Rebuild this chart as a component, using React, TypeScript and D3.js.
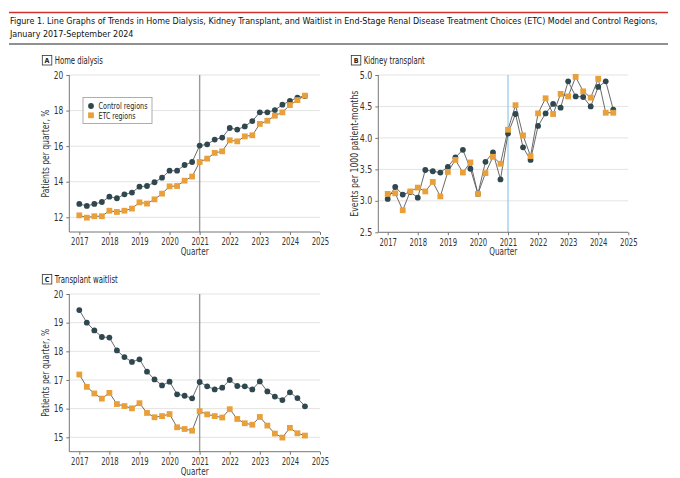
import React, { useEffect, useRef } from "react";
import * as d3 from "d3";

const quarters: number[] = [
  2017, 2017.25, 2017.5, 2017.75, 2018, 2018.25, 2018.5, 2018.75,
  2019, 2019.25, 2019.5, 2019.75, 2020, 2020.25, 2020.5, 2020.75,
  2021, 2021.25, 2021.5, 2021.75, 2022, 2022.25, 2022.5, 2022.75,
  2023, 2023.25, 2023.5, 2023.75, 2024, 2024.25, 2024.5,
];

const xTicks: number[] = [2017, 2018, 2019, 2020, 2021, 2022, 2023, 2024, 2025];

const homeControl: number[] = [
  12.75, 12.64, 12.75, 12.86, 13.16, 13.07, 13.29, 13.39,
  13.72, 13.76, 13.97, 14.23, 14.62, 14.62, 14.94, 15.11,
  16.03, 16.1, 16.37, 16.48, 17.02, 16.93, 17.11, 17.41,
  17.9, 17.9, 18.03, 18.33, 18.54, 18.73, 18.82,
];
const homeETC: number[] = [
  12.11, 11.98, 12.06, 12.06, 12.37, 12.3, 12.37, 12.49,
  12.84, 12.77, 13.01, 13.33, 13.74, 13.76, 14.06, 14.29,
  15.11, 15.3, 15.62, 15.71, 16.33, 16.27, 16.55, 16.61,
  17.25, 17.43, 17.71, 17.9, 18.31, 18.59, 18.84,
];

const txControl: number[] = [
  3.03, 3.22, 3.1, 3.14, 3.05, 3.49, 3.47, 3.45,
  3.54, 3.69, 3.81, 3.51, 3.11, 3.62, 3.77, 3.34,
  4.07, 4.38, 3.85, 3.65, 4.19, 4.39, 4.54, 4.48,
  4.9, 4.66, 4.65, 4.5, 4.81, 4.9, 4.45,
];
const txETC: number[] = [
  3.11, 3.12, 2.85, 3.15, 3.21, 3.15, 3.3, 3.07,
  3.46, 3.65, 3.45, 3.61, 3.11, 3.44, 3.7, 3.59,
  4.13, 4.52, 4.04, 3.71, 4.39, 4.63, 4.38, 4.7,
  4.66, 4.97, 4.74, 4.64, 4.94, 4.4, 4.4,
];

const wlControl: number[] = [
  19.44, 19.0, 18.73, 18.5, 18.48, 18.03, 17.8, 17.63,
  17.72, 17.29, 17.02, 16.81, 16.94, 16.5, 16.45, 16.36,
  16.93, 16.78, 16.67, 16.73, 17.0, 16.79, 16.78, 16.67,
  16.95, 16.6, 16.42, 16.3, 16.57, 16.37, 16.08,
];
const wlETC: number[] = [
  17.19, 16.76, 16.53, 16.35, 16.55, 16.16, 16.09, 16.01,
  16.19, 15.85, 15.7, 15.74, 15.81, 15.35, 15.29, 15.23,
  15.91, 15.8, 15.74, 15.69, 15.98, 15.64, 15.49, 15.44,
  15.71, 15.41, 15.13, 14.99, 15.33, 15.14, 15.06,
];

const homeTicks: number[] = [12, 14, 16, 18, 20];
const txTicks: number[] = [2.5, 3.0, 3.5, 4.0, 4.5, 5.0];
const wlTicks: number[] = [15, 16, 17, 18, 19, 20];

const titleLine1 =
  "Figure 1. Line Graphs of Trends in Home Dialysis, Kidney Transplant, and Waitlist in End-Stage Renal Disease Treatment Choices (ETC) Model and Control Regions,";
const titleLine2 = "January 2017-September 2024";

const FONT = "'Liberation Sans Narrow', 'DejaVu Sans Condensed', 'Arial Narrow', 'Liberation Sans', sans-serif";
const CONTROL_COLOR = "#2f4850";
const ETC_COLOR = "#e9a03b";
const LINE_COLOR = "#5a5a5a";

interface PanelSpec {
  letter: string;
  title: string;
  titleWidth: number;
  yLabel: string;
  yLabelWidth: number;
  control: number[];
  etc: number[];
  yTicks: number[];
  yFormat: (v: number) => string;
  axisLeft: number;
  xRange: [number, number];
  yDomain: [number, number];
  yRange: [number, number];
  axisBottom: number;
  top: number;
  refColor: string;
  legend: boolean;
}

// squeeze a text horizontally to a target width (only if it is wider)
function fit(sel: d3.Selection<any, any, any, any>, target: number) {
  sel.each(function (this: SVGTextElement) {
    const len = this.getComputedTextLength();
    if (len > target) {
      d3.select(this).attr("textLength", target).attr("lengthAdjust", "spacingAndGlyphs");
    }
  });
}

export default function App() {
  const ref = useRef<SVGSVGElement | null>(null);

  useEffect(() => {
    const svg = d3.select(ref.current);
    svg.selectAll("*").remove();
    svg.style("font-family", FONT);

    // Title block
    svg.append("line").attr("x1", 9).attr("x2", 668).attr("y1", 12.5).attr("y2", 12.5)
      .attr("stroke", "#d0312d").attr("stroke-width", 1.5);
    const t1 = svg.append("text").attr("x", 10).attr("y", 24).attr("font-size", 10.5).attr("fill", "#111").text(titleLine1);
    const t2 = svg.append("text").attr("x", 10).attr("y", 36.5).attr("font-size", 10.5).attr("fill", "#111").text(titleLine2);
    const n1 = (t1.node() as SVGTextElement).getComputedTextLength();
    const fs = Math.min(10.5, (10.5 * 649) / n1);
    t1.attr("font-size", fs);
    t2.attr("font-size", fs);
    svg.append("line").attr("x1", 9).attr("x2", 668).attr("y1", 44).attr("y2", 44)
      .attr("stroke", "#6b6b6b").attr("stroke-width", 1.5);

    const panels: PanelSpec[] = [
      {
        letter: "A", title: "Home dialysis", titleWidth: 48, yLabel: "Patients per quarter, %", yLabelWidth: 88,
        control: homeControl, etc: homeETC, yTicks: homeTicks, yFormat: d3.format("d"),
        axisLeft: 69.3, xRange: [79.3, 320], yDomain: [12, 20], yRange: [217.3, 75],
        axisBottom: 232, top: 75, refColor: "#9a9a9a", legend: true,
      },
      {
        letter: "B", title: "Kidney transplant", titleWidth: 61, yLabel: "Events per 1000 patient-months", yLabelWidth: 126,
        control: txControl, etc: txETC, yTicks: txTicks, yFormat: d3.format(".1f"),
        axisLeft: 378.3, xRange: [387.7, 628.3], yDomain: [2.5, 5.0], yRange: [232.3, 75],
        axisBottom: 232.3, top: 75, refColor: "#9fd0ea", legend: false,
      },
      {
        letter: "C", title: "Transplant waitlist", titleWidth: 63, yLabel: "Patients per quarter, %", yLabelWidth: 88,
        control: wlControl, etc: wlETC, yTicks: wlTicks, yFormat: d3.format("d"),
        axisLeft: 69.3, xRange: [79.3, 320], yDomain: [15, 20], yRange: [437.3, 294],
        axisBottom: 451.7, top: 294, refColor: "#9a9a9a", legend: false,
      },
    ];

    panels.forEach((p) => {
      const g = svg.append("g");
      const x = d3.scaleLinear().domain([2017, 2025]).range(p.xRange);
      const y = d3.scaleLinear().domain(p.yDomain).range(p.yRange);
      const right = p.xRange[1];

      // panel label
      const labTop = p.top - 19.5;
      g.append("rect").attr("x", p.axisLeft - 27).attr("y", labTop).attr("width", 9.5).attr("height", 9.5)
        .attr("fill", "white").attr("stroke", "#333").attr("stroke-width", 0.8);
      g.append("text").attr("x", p.axisLeft - 22.25).attr("y", labTop + 7.6).attr("text-anchor", "middle")
        .attr("font-size", 7).attr("font-weight", "bold").attr("fill", "#222").text(p.letter);
      const pt = g.append("text").attr("x", p.axisLeft - 14.5).attr("y", labTop + 8)
        .attr("font-size", 10).attr("fill", "#222").text(p.title);
      fit(pt, p.titleWidth);

      // gridlines
      g.selectAll("line.grid").data(p.yTicks).enter().append("line")
        .attr("x1", p.axisLeft).attr("x2", right)
        .attr("y1", (d) => y(d)).attr("y2", (d) => y(d))
        .attr("stroke", "#e3e3e3").attr("stroke-width", 1);

      // reference line at 2021
      g.append("line").attr("x1", x(2021)).attr("x2", x(2021))
        .attr("y1", p.top).attr("y2", p.axisBottom)
        .attr("stroke", p.refColor).attr("stroke-width", 1.4);

      // axes
      const yAxis = d3.axisLeft(y).tickValues(p.yTicks).tickFormat(p.yFormat as any).tickSize(3).tickPadding(3);
      const ya = g.append("g").attr("transform", `translate(${p.axisLeft},0)`).call(yAxis);
      ya.select(".domain").attr("d", `M0,${p.top}V${p.axisBottom}`).attr("stroke", "#777");
      const xAxis = d3.axisBottom(x).tickValues(xTicks).tickFormat(d3.format("d") as any).tickSize(3).tickPadding(3.5);
      const xa = g.append("g").attr("transform", `translate(0,${p.axisBottom})`).call(xAxis);
      xa.select(".domain").attr("d", `M${p.axisLeft},0H${right}`).attr("stroke", "#777");
      [ya, xa].forEach((a) => {
        a.selectAll(".tick line").attr("stroke", "#777");
        a.selectAll(".tick text").attr("font-size", 9.8).attr("fill", "#333").attr("font-family", FONT);
      });
      xa.selectAll<SVGTextElement, number>(".tick text").each(function () {
        fit(d3.select(this), 17.5);
      });
      ya.selectAll<SVGTextElement, number>(".tick text").each(function () {
        const s = d3.select(this);
        const target = s.text().includes(".") ? 12.5 : 9.5;
        fit(s, target);
      });

      // axis titles
      const q = g.append("text").attr("x", (p.axisLeft + right) / 2).attr("y", p.axisBottom + 23)
        .attr("text-anchor", "middle").attr("font-size", 10).attr("fill", "#333").text("Quarter");
      fit(q, 28);
      const midY = (p.top + p.axisBottom) / 2;
      const yl = g.append("text").attr("transform", `translate(${p.axisLeft - 20.5},${midY}) rotate(-90)`)
        .attr("text-anchor", "middle").attr("font-size", 10).attr("fill", "#333").text(p.yLabel);
      fit(yl, p.yLabelWidth);

      const lineGen = d3.line<number>().x((_, i) => x(quarters[i])).y((d) => y(d));
      [p.control, p.etc].forEach((series) => {
        g.append("path").datum(series).attr("d", lineGen).attr("fill", "none")
          .attr("stroke", LINE_COLOR).attr("stroke-width", 0.9);
      });
      // control circles
      g.selectAll("circle.ctrl").data(p.control).enter().append("circle")
        .attr("cx", (_, i) => x(quarters[i])).attr("cy", (d) => y(d)).attr("r", 2.9)
        .attr("fill", CONTROL_COLOR);
      // etc squares
      g.selectAll("rect.etc").data(p.etc).enter().append("rect")
        .attr("x", (_, i) => x(quarters[i]) - 2.9).attr("y", (d) => y(d) - 2.9)
        .attr("width", 5.8).attr("height", 5.8).attr("fill", ETC_COLOR);

      if (p.legend) {
        const lg = g.append("g");
        lg.append("rect").attr("x", 83).attr("y", 97.5).attr("width", 69).attr("height", 26)
          .attr("fill", "white").attr("stroke", "#999").attr("stroke-width", 0.8);
        lg.append("circle").attr("cx", 91).attr("cy", 106).attr("r", 2.9).attr("fill", CONTROL_COLOR);
        lg.append("rect").attr("x", 88.1).attr("y", 112.4).attr("width", 5.8).attr("height", 5.8).attr("fill", ETC_COLOR);
        const l1 = lg.append("text").attr("x", 98.5).attr("y", 109.2).attr("font-size", 8.6).attr("fill", "#222").text("Control regions");
        const l2 = lg.append("text").attr("x", 98.5).attr("y", 118.8).attr("font-size", 8.6).attr("fill", "#222").text("ETC regions");
        fit(l1, 49);
        fit(l2, 37);
      }
    });
  }, []);

  return (
    <svg ref={ref} width={680} height={478} style={{ position: "absolute", left: 0, top: 0, background: "white" }} />
  );
}
